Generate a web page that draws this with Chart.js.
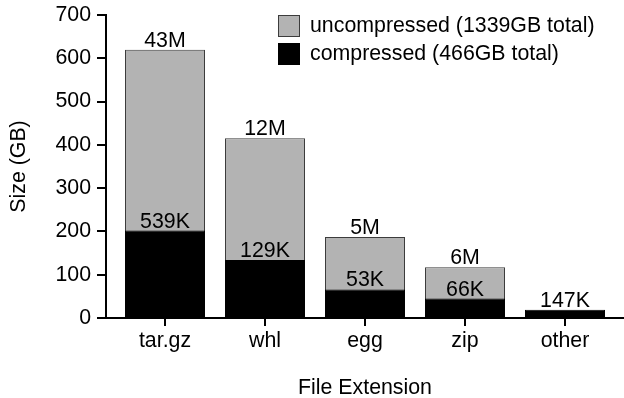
<!DOCTYPE html>
<html>
<head>
<meta charset="utf-8">
<script src="https://cdn.jsdelivr.net/npm/chart.js@4/dist/chart.umd.min.js"></script>
<style>
html,body{margin:0;padding:0;background:#fff;}
#wrap{width:624px;height:398px;position:relative;}
</style>
</head>
<body>
<div id="wrap"><canvas id="c" width="624" height="398"></canvas></div>
<script>
const categories = ['tar.gz', 'whl', 'egg', 'zip', 'other'];
const uncompressedGB = [620, 415, 187, 117, null];
const compressedGB = [202, 134, 66, 45, 19];
const uncompressedCounts = ['43M', '12M', '5M', '6M', ''];
const compressedCounts = ['539K', '129K', '53K', '66K', '147K'];
const seriesNames = ['uncompressed (1339GB total)', 'compressed (466GB total)'];
const yTicks = [0, 100, 200, 300, 400, 500, 600, 700];

const FONT_FAMILY = '"Liberation Sans", Arial, Helvetica, sans-serif';
const FONT_SIZE = 21.33;
const FONT = { family: FONT_FAMILY, size: FONT_SIZE };
const GRAY = '#b3b3b3';
const GRAY_BORDER = '#3c3c3c';

const overlay = {
  id: 'overlay',
  afterDatasetsDraw(chart) {
    const ctx = chart.ctx;
    ctx.save();
    ctx.font = FONT_SIZE + 'px ' + FONT_FAMILY;
    ctx.fillStyle = '#000';
    ctx.textAlign = 'center';
    ctx.textBaseline = 'alphabetic';
    [[0, uncompressedCounts], [1, compressedCounts]].forEach(([di, labels]) => {
      const meta = chart.getDatasetMeta(di);
      meta.data.forEach((el, i) => {
        if (labels[i] && el && isFinite(el.y)) {
          ctx.fillText(labels[i], el.x, el.y - 3);
        }
      });
    });
    // legend
    const ca = chart.chartArea;
    const bx = ca.left + 172;
    const by = 15;
    const colors = [[GRAY, GRAY_BORDER], ['#000', '#000']];
    ctx.textAlign = 'left';
    ctx.textBaseline = 'middle';
    seriesNames.forEach((name, i) => {
      const y = by + i * 28;
      ctx.fillStyle = colors[i][0];
      ctx.fillRect(bx, y, 22, 22);
      ctx.strokeStyle = colors[i][1];
      ctx.lineWidth = 1;
      ctx.strokeRect(bx + 0.5, y + 0.5, 21, 21);
      ctx.fillStyle = '#000';
      ctx.fillText(name, bx + 32, y + 11.5);
    });
    ctx.restore();
  }
};

const toPoints = (arr) => categories.map((c, i) => ({ x: i, y: arr[i] }));

new Chart(document.getElementById('c'), {
  type: 'bar',
  data: {
    datasets: [
      {
        label: seriesNames[0],
        data: toPoints(uncompressedGB),
        backgroundColor: GRAY,
        borderColor: GRAY_BORDER,
        borderWidth: 1,
        grouped: false,
        order: 2,
        barPercentage: 0.8,
        categoryPercentage: 1
      },
      {
        label: seriesNames[1],
        data: toPoints(compressedGB),
        backgroundColor: '#000',
        borderColor: '#000',
        borderWidth: 1,
        grouped: false,
        order: 1,
        barPercentage: 0.8,
        categoryPercentage: 1
      }
    ]
  },
  options: {
    responsive: false,
    animation: false,
    devicePixelRatio: 1,
    layout: { padding: { top: 15, right: 0, bottom: 0, left: 0 } },
    plugins: { legend: { display: false }, tooltip: { enabled: false } },
    scales: {
      x: {
        type: 'linear',
        position: 'bottom',
        min: -0.59,
        max: 4.59,
        offset: false,
        afterBuildTicks: (s) => { s.ticks = categories.map((c, i) => ({ value: i })); },
        afterFit: (s) => { s.height = 80; s.paddingLeft = 0; s.paddingRight = 0; },
        ticks: {
          callback: (v) => categories[v] ?? '',
          font: FONT,
          color: '#000',
          padding: 2,
          autoSkip: false,
          maxRotation: 0
        },
        grid: { offset: false, display: true, drawOnChartArea: false, drawTicks: true, tickLength: 8, color: '#000', lineWidth: 2, tickColor: '#000', tickWidth: 2 },
        border: { display: true, color: '#000', width: 2 },
        title: { display: true, text: 'File Extension', font: FONT, color: '#000', padding: { top: 0, bottom: -2.5 } }
      },
      y: {
        min: 0,
        max: 700,
        afterBuildTicks: (s) => { s.ticks = yTicks.map(v => ({ value: v })); },
        afterFit: (s) => { s.width = 106; s.paddingTop = 0; s.paddingBottom = 0; },
        ticks: { font: FONT, color: '#000', padding: 6 },
        grid: { drawOnChartArea: false, drawTicks: true, tickLength: 9, color: '#000', lineWidth: 2 },
        border: { color: '#000', width: 2 },
        title: { display: true, text: 'Size (GB)', font: FONT, color: '#000', padding: { top: 6.5, bottom: 0 } }
      }
    }
  },
  plugins: [overlay]
});
</script>
</body>
</html>
